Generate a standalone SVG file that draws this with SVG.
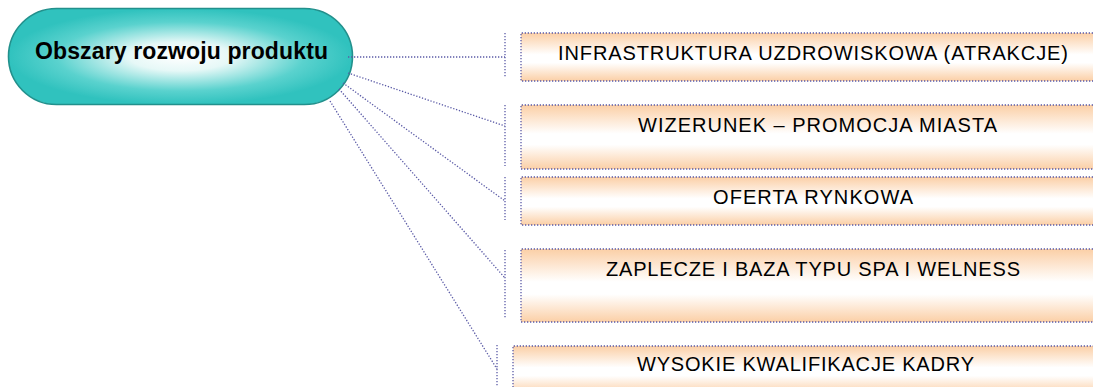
<svg xmlns="http://www.w3.org/2000/svg" width="1093" height="387" viewBox="0 0 1093 387">
  <defs>
    <radialGradient id="pillFill" cx="0.5" cy="0.5" r="0.5">
      <stop offset="0" stop-color="#ffffff"/>
      <stop offset="0.3" stop-color="#e6f8f7"/>
      <stop offset="0.72" stop-color="#5ad2ce"/>
      <stop offset="1" stop-color="#30c2be"/>
    </radialGradient>
    <linearGradient id="boxFill" x1="0" y1="0" x2="0" y2="1">
      <stop offset="0" stop-color="#fbcfa6"/>
      <stop offset="0.45" stop-color="#ffffff"/>
      <stop offset="0.62" stop-color="#ffffff"/>
      <stop offset="1" stop-color="#fbcfa6"/>
    </linearGradient>
    <style>
      .dot { fill: none; stroke: #5a5aa6; stroke-width: 1.3; stroke-dasharray: 1.3 1.7; }
      .box { fill: url(#boxFill); }
      .label { font-family: "Liberation Sans", Arial, sans-serif; font-size: 20px; fill: #000000; text-anchor: middle; }
      .title { font-family: "Liberation Sans", Arial, sans-serif; font-size: 23px; font-weight: bold; fill: #000000; text-anchor: middle; }
    </style>
  </defs>

  <!-- central topic -->
  <g id="topic">
    <rect x="8.5" y="8.5" width="344" height="96" rx="48" ry="48" fill="url(#pillFill)" stroke="#22908c" stroke-width="1.6"/>
    <text class="title" x="181.5" y="59" textLength="293" lengthAdjust="spacing">Obszary rozwoju produktu</text>
  </g>

  <!-- connectors from the topic to each bracket -->
  <g id="connectors">
    <path class="dot" d="M348 57 L505 57"/>
    <path class="dot" d="M348 73 L505 126"/>
    <path class="dot" d="M343 83 L505 201"/>
    <path class="dot" d="M339 89 L505 278"/>
    <path class="dot" d="M330 101 L497 369"/>
    <!-- brackets -->
    <path class="dot" d="M505 33 L505 77"/>
    <path class="dot" d="M505 105 L505 166"/>
    <path class="dot" d="M505 177 L505 220"/>
    <path class="dot" d="M505 250 L505 318"/>
    <path class="dot" d="M497 345 L497 390"/>
  </g>

  <g id="node1">
    <rect class="box" x="521" y="33" width="584" height="48"/>
    <path class="dot" d="M1105 33 L521 33 L521 81 L1105 81"/>
    <text class="label" x="813" y="59.5" textLength="510" lengthAdjust="spacing">INFRASTRUKTURA UZDROWISKOWA (ATRAKCJE)</text>
  </g>

  <g id="node2">
    <rect class="box" x="521" y="105" width="584" height="64"/>
    <path class="dot" d="M1105 105 L521 105 L521 169 L1105 169"/>
    <text class="label" x="817.5" y="131.5" textLength="359" lengthAdjust="spacing">WIZERUNEK – PROMOCJA MIASTA</text>
  </g>

  <g id="node3">
    <rect class="box" x="521" y="177" width="584" height="48"/>
    <path class="dot" d="M1105 177 L521 177 L521 225 L1105 225"/>
    <text class="label" x="813" y="204" textLength="200" lengthAdjust="spacing">OFERTA RYNKOWA</text>
  </g>

  <g id="node4">
    <rect class="box" x="521" y="249" width="584" height="73"/>
    <path class="dot" d="M1105 249 L521 249 L521 322 L1105 322"/>
    <text class="label" x="813" y="276" textLength="414" lengthAdjust="spacing">ZAPLECZE I BAZA TYPU SPA I WELNESS</text>
  </g>

  <g id="node5">
    <rect class="box" x="513" y="346" width="584" height="48"/>
    <path class="dot" d="M1097 346 L513 346 L513 394"/>
    <text class="label" x="805.5" y="371" textLength="337" lengthAdjust="spacing">WYSOKIE KWALIFIKACJE KADRY</text>
  </g>
</svg>
